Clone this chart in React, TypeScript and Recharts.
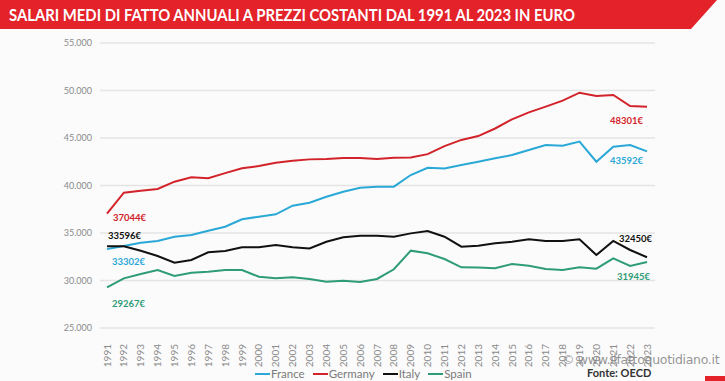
import { CartesianGrid, LabelList, Line, LineChart, XAxis, YAxis } from "recharts";

const years = [
  "1991", "1992", "1993", "1994", "1995", "1996", "1997", "1998", "1999", "2000",
  "2001", "2002", "2003", "2004", "2005", "2006", "2007", "2008", "2009", "2010",
  "2011", "2012", "2013", "2014", "2015", "2016", "2017", "2018", "2019", "2020",
  "2021", "2022", "2023",
];

const france = [
  33302, 33630, 33980, 34160, 34610, 34790, 35240, 35660, 36440, 36720,
  36970, 37880, 38190, 38820, 39350, 39770, 39880, 39880, 41100, 41870,
  41800, 42160, 42500, 42860, 43210, 43740, 44260, 44190, 44630, 42500,
  44090, 44260, 43592,
];

const germany = [
  37044, 39240, 39450, 39630, 40400, 40860, 40760, 41300, 41810, 42050,
  42400, 42600, 42750, 42800, 42900, 42900, 42800, 42930, 42950, 43300,
  44150, 44800, 45200, 46000, 46970, 47700, 48300, 48930, 49770, 49420,
  49530, 48370, 48301,
];

const italy = [
  33596, 33600, 33130, 32580, 31870, 32160, 32970, 33100, 33490, 33490,
  33740, 33490, 33380, 34080, 34550, 34720, 34720, 34610, 34960, 35210,
  34610, 33560, 33670, 33910, 34080, 34330, 34160, 34160, 34330, 32680,
  34160, 33210, 32450,
];

const spain = [
  29267, 30230, 30680, 31100, 30470, 30820, 30930, 31100, 31100, 30400,
  30230, 30330, 30160, 29880, 29980, 29840, 30160, 31180, 33140, 32860,
  32260, 31390, 31380, 31280, 31740, 31560, 31210, 31100, 31390, 31250,
  32330, 31530, 31945,
];

const yTicks = [25000, 30000, 35000, 40000, 45000, 50000, 55000];

const series = [
  { key: "France", values: france, color: "#2aa8d6", first: [5, 13], last: [-4, 9] },
  { key: "Germany", values: germany, color: "#d2232a", first: [6, 4], last: [-4, 14] },
  { key: "Italy", values: italy, color: "#111111", first: [1, -11], last: [5, -19] },
  { key: "Spain", values: spain, color: "#2e9c78", first: [5, 16], last: [3, 15] },
];

const data = years.map((year, i) => {
  const row: Record<string, string | number> = { year };
  series.forEach((s) => (row[s.key] = s.values[i]));
  return row;
});

const FONT = "Lato, 'Open Sans', sans-serif";

function fmt(n: number) {
  return String(n).replace(/\B(?=(\d{3})+(?!\d))/g, ".");
}

function YearTick({ x, y, payload }: any) {
  return (
    <text
      transform={`translate(${x + 3.5},${y + 8}) rotate(-90)`}
      textAnchor="end"
      fontSize={10}
      fill="#8a8a8a"
      fontFamily={FONT}
    >
      {payload.value}
    </text>
  );
}

function endLabel(color: string, first: number[], last: number[]) {
  return (props: any) => {
    const { x, y, index, value } = props;
    const lastIdx = years.length - 1;
    if (index !== 0 && index !== lastIdx) return null;
    const [dx, dy] = index === 0 ? first : last;
    return (
      <text
        x={x + dx}
        y={y + dy}
        dy="0.35em"
        textAnchor={index === 0 ? "start" : "end"}
        fontSize={9.5}
        fontWeight={700}
        fill={color}
        fontFamily={FONT}
      >
        {value}€
      </text>
    );
  };
}

export default function App() {
  return (
    <div
      style={{
        position: "absolute",
        left: 0,
        top: 0,
        width: 725,
        height: 381,
        overflow: "hidden",
        background: "#fbfbfb",
        fontFamily: FONT,
      }}
    >
      <LineChart
        width={725}
        height={381}
        data={data}
        margin={{ top: 43, right: 70, bottom: 23, left: 0 }}
        style={{ position: "absolute", left: 0, top: 0 }}
      >
        <CartesianGrid vertical={false} stroke="#e4e4e4" strokeWidth={1.5} />
        <XAxis
          dataKey="year"
          height={30}
          axisLine={false}
          tickLine={false}
          interval={0}
          padding={{ left: 7, right: 8 }}
          tick={<YearTick />}
        />
        <YAxis
          width={100}
          domain={[25000, 55000]}
          ticks={yTicks}
          axisLine={false}
          tickLine={false}
          tickFormatter={fmt}
          tick={{ fontSize: 9, fill: "#8a8a8a", fontFamily: FONT }}
        />
        {series.map((s) => (
          <Line
            key={s.key}
            type="linear"
            dataKey={s.key}
            stroke={s.color}
            strokeWidth={2}
            dot={false}
            isAnimationActive={false}
          >
            <LabelList dataKey={s.key} content={endLabel(s.color, s.first, s.last)} />
          </Line>
        ))}
      </LineChart>

      <svg width={725} height={34} style={{ position: "absolute", left: 0, top: 0 }}>
        <polygon points="0,0 717,0 691,29 0,29" fill="#e3222a" />
        <text
          x={9}
          y={21}
          fontSize={17}
          fontWeight={700}
          fill="#ffffff"
          fontFamily={FONT}
          textLength={566}
          lengthAdjust="spacingAndGlyphs"
        >
          SALARI MEDI DI FATTO ANNUALI A PREZZI COSTANTI DAL 1991 AL 2023 IN EURO
        </text>
      </svg>

      <div
        style={{
          position: "absolute",
          left: 255,
          top: 366,
          display: "flex",
          gap: 8,
          fontSize: 11.5,
          color: "#7a7a7a",
          lineHeight: "16px",
          whiteSpace: "nowrap",
        }}
      >
        {series.map((s) => (
          <div key={s.key} style={{ display: "flex", alignItems: "center" }}>
            <span style={{ display: "inline-block", width: 15, height: 2, background: s.color, marginRight: 1 }} />
            {s.key}
          </div>
        ))}
      </div>

      <div
        style={{
          position: "absolute",
          left: 562,
          top: 352,
          fontSize: 12.5,
          color: "rgba(130,130,130,0.85)",
          fontFamily: "'DejaVu Sans', sans-serif",
          letterSpacing: -0.3,
          whiteSpace: "nowrap",
        }}
      >
        © www.ilfattoquotidiano.it
      </div>
      <div
        style={{
          position: "absolute",
          left: 587,
          top: 366,
          fontSize: 11,
          fontWeight: 700,
          color: "#333",
          whiteSpace: "nowrap",
        }}
      >
        Fonte: OECD
      </div>
      <div style={{ position: "absolute", left: 705, top: 376, width: 20, height: 5, background: "#e3222a" }} />
    </div>
  );
}
